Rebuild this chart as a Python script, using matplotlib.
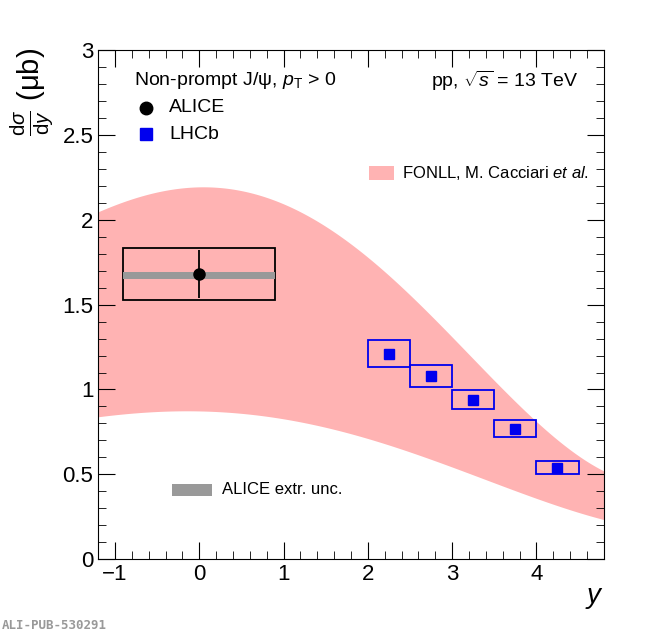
import matplotlib
matplotlib.use("Agg")
import matplotlib.pyplot as plt
from matplotlib.patches import Rectangle
import numpy as np

plt.rcParams['font.family'] = ['Liberation Sans', 'DejaVu Sans']
plt.rcParams['mathtext.fontset'] = 'custom'
plt.rcParams['mathtext.rm'] = 'Liberation Sans'
plt.rcParams['mathtext.it'] = 'Liberation Sans:italic'

fonll_x = [-1.2, -0.5, 0, 0.5, 1, 1.5, 2, 2.5, 3, 3.5, 4, 4.5, 4.8]
fonll_hi = [2.05, 2.16, 2.19, 2.17, 2.10, 1.97, 1.78, 1.55, 1.30, 1.05, 0.82, 0.62, 0.51]
fonll_lo = [0.84, 0.87, 0.87, 0.86, 0.83, 0.78, 0.71, 0.63, 0.54, 0.45, 0.36, 0.28, 0.23]

alice_x, alice_y, alice_stat, alice_syst, alice_xw = 0.0, 1.68, 0.14, 0.155, 0.9
alice_extr = 0.04

lhcb_x = [2.25, 2.75, 3.25, 3.75, 4.25]
lhcb_y = [1.21, 1.08, 0.94, 0.77, 0.54]
lhcb_syst = [0.08, 0.065, 0.055, 0.05, 0.04]
lhcb_xw = 0.25

fig = plt.figure(figsize=(6.5, 6.34), dpi=100)
ax = fig.add_axes([0.151, 0.118, 0.778, 0.803])
# smooth drawing of the band through the read values
xs = np.linspace(-1.2, 4.8, 300)
hi = np.polyval(np.polyfit(fonll_x, fonll_hi, 4), xs)
lo = np.polyval(np.polyfit(fonll_x, fonll_lo, 4), xs)
ax.fill_between(xs, lo, hi, color="#ffb3b3", lw=0)

ax.add_patch(Rectangle((alice_x - alice_xw, alice_y - alice_syst), 2 * alice_xw, 2 * alice_syst,
                       fill=False, ec="black", lw=1.3))
ax.add_patch(Rectangle((alice_x - alice_xw, alice_y - 0.01 - alice_extr / 2), 2 * alice_xw, alice_extr,
                       color="#999999", lw=0))
ax.errorbar([alice_x], [alice_y], yerr=[alice_stat], fmt="o", color="black", ms=8, lw=1.3)

for x, y, s in zip(lhcb_x, lhcb_y, lhcb_syst):
    ax.add_patch(Rectangle((x - lhcb_xw, y - s), 2 * lhcb_xw, 2 * s, fill=False, ec="#0000ee", lw=1.3))
ax.plot(lhcb_x, lhcb_y, "s", color="#0000ee", ms=7)

ax.set_xlim(-1.2, 4.8)
ax.set_ylim(0, 3)
ax.set_xticks([-1, 0, 1, 2, 3, 4])
ax.set_xticks(np.arange(-1.2, 4.81, 0.2), minor=True)
ax.set_yticks([0, 0.5, 1, 1.5, 2, 2.5, 3])
ax.set_yticklabels(["0", "0.5", "1", "1.5", "2", "2.5", "3"])
ax.set_yticks(np.arange(0, 3.01, 0.1), minor=True)
ax.tick_params(which="both", direction="in", top=True, right=True, labelsize=16)
ax.tick_params(which="major", length=12)
ax.tick_params(which="minor", length=6)
ax.set_xlabel("$y$", fontsize=20, loc="right", labelpad=0)
fig.text(0.012, 0.925, r"$\frac{\mathrm{d}\sigma}{\mathrm{d}y}$ (μb)", rotation=90, fontsize=21, va="top")

ax.text(0.07, 0.94, r"Non-prompt J/ψ, $p_{\rm T}$ > 0", transform=ax.transAxes, fontsize=14, va="center")
ax.text(0.95, 0.94, r"pp, $\sqrt{s}$ = 13 TeV", transform=ax.transAxes, fontsize=14, va="center", ha="right")
ax.plot([0.095], [0.887], "o", color="black", ms=9, transform=ax.transAxes)
ax.text(0.14, 0.887, "ALICE", transform=ax.transAxes, fontsize=14, va="center")
ax.plot([0.095], [0.835], "s", color="#0000ee", ms=8, transform=ax.transAxes)
ax.text(0.14, 0.835, "LHCb", transform=ax.transAxes, fontsize=14, va="center")
ax.add_patch(Rectangle((0.535, 0.745), 0.05, 0.028, color="#ffb3b3", transform=ax.transAxes, lw=0))
ax.text(0.6, 0.759, "FONLL, M. Cacciari $et\\ al.$", transform=ax.transAxes, fontsize=12, va="center")
ax.add_patch(Rectangle((0.147, 0.124), 0.078, 0.024, color="#999999", transform=ax.transAxes, lw=0))
ax.text(0.245, 0.136, "ALICE extr. unc.", transform=ax.transAxes, fontsize=12, va="center")

fig.text(0.003, 0.008, "ALI-PUB-530291", fontsize=9, color="#999999", family="DejaVu Sans Mono", weight="bold")
fig.savefig("out.png", dpi=100)
